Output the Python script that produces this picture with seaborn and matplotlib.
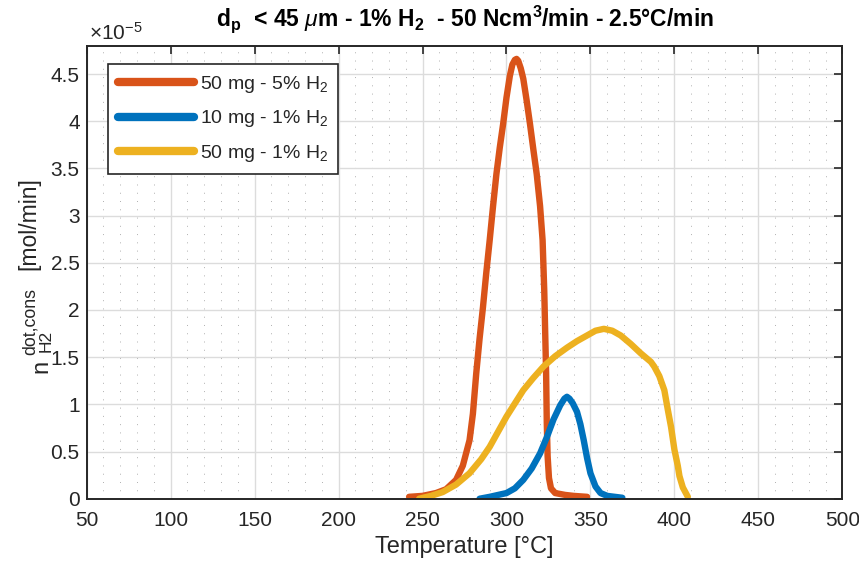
import numpy as np
import pandas as pd
import matplotlib
matplotlib.use('Agg')
import matplotlib.pyplot as plt
import seaborn as sns
from matplotlib.ticker import MultipleLocator, FuncFormatter

sns.set_style('white')
plt.rcParams['font.family'] = ['Liberation Sans', 'DejaVu Sans']
plt.rcParams['mathtext.fontset'] = 'custom'
plt.rcParams['mathtext.rm'] = 'Liberation Sans'
plt.rcParams['mathtext.it'] = 'Liberation Sans:italic'
plt.rcParams['mathtext.bf'] = 'Liberation Sans:bold'

# data (y in units of 1e-5 mol/min)
red_T = [242, 250, 258, 264, 270, 274, 278, 280, 282, 284, 286, 288, 290, 292, 294, 296, 298,
         300, 302, 303.5, 305, 306, 307, 308.5, 310, 312, 314, 316, 318, 320, 321.5, 322.5, 323,
         323.6, 324, 324.5, 325.3, 326.5, 329, 335, 340, 348]
red_v = [0.02, 0.03, 0.06, 0.10, 0.20, 0.35, 0.62, 0.90, 1.33, 1.70, 2.03, 2.40, 2.74, 3.10, 3.44,
         3.72, 3.97, 4.25, 4.48, 4.60, 4.65, 4.66, 4.64, 4.56, 4.45, 4.22, 3.97, 3.70, 3.44, 3.10,
         2.74, 2.20, 1.80, 1.33, 0.80, 0.45, 0.22, 0.11, 0.06, 0.04, 0.03, 0.02]

blue_T = [284, 290, 300, 305, 310, 315, 320, 324, 328, 332, 334.5, 336, 337.5, 339.5, 342, 344,
          346, 348, 350, 353, 356, 360, 369]
blue_v = [0.0, 0.02, 0.06, 0.11, 0.20, 0.32, 0.48, 0.65, 0.84, 0.99, 1.06, 1.08, 1.06, 1.01,
          0.92, 0.79, 0.62, 0.43, 0.27, 0.13, 0.06, 0.03, 0.01]

yel_T = [248, 255, 262, 270, 278, 285, 290, 295, 300, 305, 310, 316, 322, 329, 336, 342, 348,
         353, 358, 363, 368, 374, 380, 386, 388, 391, 394, 396, 398, 400, 402, 403, 405, 408]
yel_v = [0.0, 0.03, 0.07, 0.15, 0.27, 0.42, 0.55, 0.71, 0.87, 1.01, 1.15, 1.28, 1.40, 1.51,
         1.60, 1.67, 1.73, 1.78, 1.80, 1.78, 1.73, 1.64, 1.54, 1.45, 1.40, 1.30, 1.15, 0.95,
         0.76, 0.52, 0.35, 0.24, 0.12, 0.02]

labels = ['50 mg - 5% H$_2$', '10 mg - 1% H$_2$', '50 mg - 1% H$_2$']
colors = ['#D95319', '#0072BD', '#EDB120']

df = pd.concat([
    pd.DataFrame({'T': red_T, 'n': red_v, 'serie': labels[0]}),
    pd.DataFrame({'T': blue_T, 'n': blue_v, 'serie': labels[1]}),
    pd.DataFrame({'T': yel_T, 'n': yel_v, 'serie': labels[2]}),
])

W, H = 859, 562
fig = plt.figure(figsize=(W / 100, H / 100), dpi=100)
ax = fig.add_axes([0.1009, 0.1126, 0.8797, 0.8061])

sns.lineplot(data=df, x='T', y='n', hue='serie', palette=dict(zip(labels, colors)),
             estimator=None, sort=False, linewidth=4.6, ax=ax)

ax.set_xlim(50, 500)
ax.set_ylim(0, 4.8)
ax.xaxis.set_major_locator(MultipleLocator(50))
ax.xaxis.set_minor_locator(MultipleLocator(10))
ax.yaxis.set_major_locator(MultipleLocator(0.5))
ax.yaxis.set_major_formatter(FuncFormatter(lambda v, p: f'{v:g}'))

ax.grid(which='major', axis='both', color='#dcdcdc', linewidth=1.0)
ax.grid(which='minor', axis='x', color='#b0b0b0', linewidth=0.7,
        linestyle=(0, (1, 7.5)))
ax.set_axisbelow(True)

dark = '#262626'
for s in ax.spines.values():
    s.set_visible(True)
    s.set_color(dark)
    s.set_linewidth(1.4)
ax.tick_params(which='major', direction='in', length=6, width=1.2, colors=dark,
               labelsize=15, top=True, right=True, pad=5)
ax.tick_params(axis='x', which='major', pad=9)
ax.tick_params(which='minor', length=0, top=True, right=True)

ax.set_xlabel('Temperature [°C]', fontsize=17, color=dark, labelpad=4)
ax.set_ylabel('')
ax.set_title(r'd$_\mathbf{p}$  < 45 $\mu$m - 1% H$_\mathbf{2}$  - 50 Ncm$^\mathbf{3}$/min - 2.5°C/min',
             fontsize=16.5, fontweight='bold', color='black', pad=14)
ax.text(0.003, 1.0126, r'$\times$10$^{-5}$', transform=ax.transAxes, fontsize=15,
        color=dark, ha='left', va='baseline')

# y label written in pieces (MATLAB-like large sub/superscripts)
def ylab(txt, x, y, size):
    fig.text(x / W, 1 - y / H, txt, rotation=90, rotation_mode='anchor',
             ha='left', va='baseline', fontsize=size, color=dark)

ylab('n', 47, 373, 17)
ylab('H2', 51, 352, 12.5)
ylab('dot,cons', 35, 355, 12.8)
ylab('[mol/min]', 35, 270, 16.5)

ax_h = 498.7 - 45.7
leg = ax.legend(loc='upper left', bbox_to_anchor=((108 - 86.7) / 755.6, (498.7 - 64) / ax_h),
                borderaxespad=0, fontsize=14, handlelength=3.9, labelspacing=0.7,
                borderpad=0.5, handletextpad=0.35, frameon=True, fancybox=False,
                edgecolor=dark, framealpha=1)
leg.get_frame().set_linewidth(1.2)
for line in leg.get_lines():
    line.set_linewidth(6)

plt.savefig('out.png', dpi=100)
